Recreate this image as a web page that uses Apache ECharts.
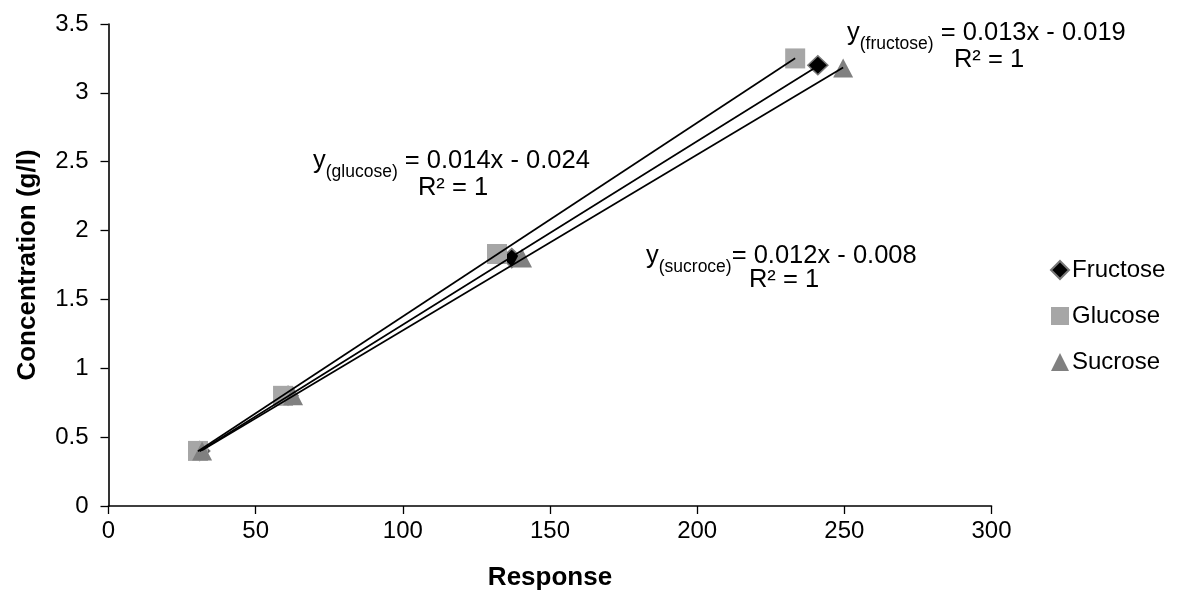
<!DOCTYPE html>
<html>
<head>
<meta charset="utf-8">
<script src="https://cdn.jsdelivr.net/npm/echarts@6/dist/echarts.min.js"></script>
<style>
html,body{margin:0;padding:0;background:#fff;}
#c{width:1183px;height:596px;}
</style>
</head>
<body>
<div id="c"></div>
<script>
// ---- data ----
const seriesNames = ['Fructose', 'Glucose', 'Sucrose'];
const fructoseX = [31, 61, 137, 241];
const fructoseY = [0.4, 0.8, 1.8, 3.2];
const glucoseX = [30.4, 59.3, 132, 233.3];
const glucoseY = [0.4, 0.8, 1.83, 3.25];
const sucroseX = [31.8, 62.7, 140.5, 249.6];
const sucroseY = [0.4, 0.8, 1.8, 3.18];
const xTicks = [0, 50, 100, 150, 200, 250, 300];
const yTicks = [0, 0.5, 1, 1.5, 2, 2.5, 3, 3.5];
const equations = [
  {sub: '(fructose)', eq: ' = 0.013x - 0.019'},
  {sub: '(glucose)', eq: ' = 0.014x - 0.024'},
  {sub: '(sucroce)', eq: '= 0.012x - 0.008'}
];

function pairs(xs, ys) { return xs.map((x, i) => [x, ys[i]]); }
function trend(xs, ys) {
  const n = xs.length;
  const mx = xs.reduce((a, b) => a + b, 0) / n;
  const my = ys.reduce((a, b) => a + b, 0) / n;
  let sxy = 0, sxx = 0;
  for (let i = 0; i < n; i++) { sxy += (xs[i] - mx) * (ys[i] - my); sxx += (xs[i] - mx) ** 2; }
  const b = sxy / sxx, a = my - b * mx;
  const x0 = Math.min(...xs), x1 = Math.max(...xs);
  return [[x0, a + b * x0], [x1, a + b * x1]];
}

const FONT = 'Liberation Sans, Arial, sans-serif';
const chart = echarts.init(document.getElementById('c'), null, {renderer: 'canvas'});

function trendSeries(xs, ys) {
  return {
    type: 'line', data: trend(xs, ys), symbol: 'none', silent: true,
    lineStyle: {color: '#000', width: 1.7}, z: 5, legendHoverLink: false
  };
}

const rich = {
  y: {fontSize: 25.5, fontFamily: FONT, color: '#000', lineHeight: 30, verticalAlign: 'bottom'},
  s: {fontSize: 17.5, fontFamily: FONT, color: '#000', lineHeight: 30, verticalAlign: 'bottom', padding: [0, 0, -7, 0]},
  e: {fontSize: 25.5, fontFamily: FONT, color: '#000', lineHeight: 30, verticalAlign: 'bottom'}
};
function eqText(i, x, y, r2x, r2y) {
  return [
    {type: 'text', x: x, y: y, style: {text: '{y|y}{s|' + equations[i].sub + '}{e|' + equations[i].eq + '}', rich: rich, align: 'left', verticalAlign: 'middle'}},
    {type: 'text', x: r2x, y: r2y, style: {text: 'R² = 1', font: '25.5px ' + FONT, fill: '#000', align: 'center', verticalAlign: 'middle'}}
  ];
}

const option = {
  backgroundColor: '#fff',
  animation: false,
  grid: {left: 108.5, right: 191.5, top: 24, bottom: 90, containLabel: false},
  xAxis: {
    type: 'value', min: xTicks[0], max: xTicks[xTicks.length - 1], interval: 50,
    name: 'Response', nameLocation: 'middle', nameGap: 59,
    nameTextStyle: {fontSize: 26, fontWeight: 'bold', fontFamily: FONT, color: '#000'},
    axisLine: {show: true, lineStyle: {color: '#000', width: 1.6}},
    axisTick: {show: true, length: 8, lineStyle: {color: '#000', width: 1.3}},
    axisLabel: {fontSize: 24, fontFamily: FONT, color: '#000', margin: 13},
    splitLine: {show: false}
  },
  yAxis: {
    type: 'value', min: yTicks[0], max: yTicks[yTicks.length - 1], interval: 0.5,
    name: 'Concentration (g/l)', nameLocation: 'middle', nameGap: 68, nameRotate: 90,
    nameTextStyle: {fontSize: 26, fontWeight: 'bold', fontFamily: FONT, color: '#000'},
    axisLine: {show: true, onZero: false, lineStyle: {color: '#000', width: 1.6}},
    axisTick: {show: true, length: 8, lineStyle: {color: '#000', width: 1.3}},
    axisLabel: {fontSize: 24, fontFamily: FONT, color: '#000', margin: 20},
    splitLine: {show: false}
  },
  legend: {
    orient: 'vertical', left: 1050, top: 258, padding: 0, itemGap: 22, itemWidth: 18, itemHeight: 18,
    textStyle: {fontSize: 24, fontFamily: FONT, color: '#000', lineHeight: 24, padding: [0, 0, 0, -2]},
    data: [
      {name: 'Fructose', icon: 'diamond'},
      {name: 'Glucose', icon: 'rect'},
      {name: 'Sucrose', icon: 'triangle'}
    ]
  },
  series: [
    {name: seriesNames[0], type: 'scatter', data: pairs(fructoseX, fructoseY), symbol: 'diamond', symbolSize: [20, 19],
     itemStyle: {color: '#000', borderColor: '#777', borderWidth: 1.5, opacity: 1}, z: 2},
    {name: seriesNames[1], type: 'scatter', data: pairs(glucoseX, glucoseY), symbol: 'rect', symbolSize: 20,
     itemStyle: {color: '#A6A6A6', opacity: 1}, z: 3},
    {name: seriesNames[2], type: 'scatter', data: pairs(sucroseX, sucroseY), symbol: 'triangle', symbolSize: [20, 19],
     itemStyle: {color: '#808080', opacity: 1}, z: 4},
    trendSeries(fructoseX, fructoseY),
    trendSeries(glucoseX, glucoseY),
    trendSeries(sucroseX, sucroseY)
  ],
  graphic: [].concat(
    eqText(0, 847, 31, 989, 60),
    eqText(1, 313, 159, 453, 188),
    eqText(2, 646, 254, 784, 280)
  )
};
chart.setOption(option);
</script>
</body>
</html>
